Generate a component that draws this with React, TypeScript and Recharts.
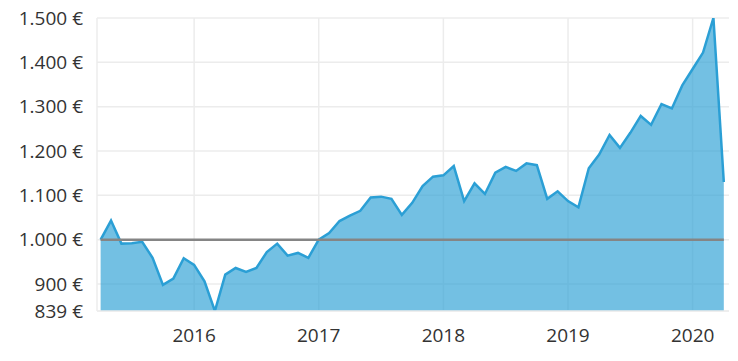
import { Area, CartesianGrid, ComposedChart, Line, XAxis, YAxis } from "recharts";

// monthly portfolio value, Apr 2015 .. Apr 2020 (one point per month)
const VALUES = [
  1000, 1043, 991, 992, 995, 959, 898, 912, 958, 943, 906, 839,
  921, 936, 927, 936, 972, 991, 964, 970, 959, 1000, 1015, 1042,
  1054, 1065, 1095, 1097, 1092, 1056, 1083, 1121, 1142, 1145, 1166, 1087,
  1127, 1103, 1151, 1164, 1155, 1172, 1168, 1092, 1109, 1087, 1073, 1161,
  1192, 1236, 1207, 1241, 1279, 1259, 1306, 1296, 1348, 1385, 1422, 1500,
  1130,
];
const START_VALUE = 1000;

// month index of Jan 1st for each year label
const YEAR_TICKS = [9, 21, 33, 45, 57];
const YEAR_LABELS = ["2016", "2017", "2018", "2019", "2020"];
const Y_TICKS = [839, 900, 1000, 1100, 1200, 1300, 1400, 1500];

const COLOR_AREA = "#2b9fd5";
const COLOR_BASE = "#858585";
const COLOR_GRID = "#ececec";
const COLOR_TEXT = "#333333";
const FONT = "'Open Sans', sans-serif";

const rows = VALUES.map((v, i) => ({ idx: i, value: v, base: START_VALUE }));

const euro = (v: number) => {
  const s = String(Math.round(v));
  return s.replace(/\B(?=(\d{3})+(?!\d))/g, ".") + " €";
};

const YTick = ({ x, y, payload }: any) => (
  <text
    x={x}
    y={y}
    dy="0.355em"
    textAnchor="end"
    fill={COLOR_TEXT}
    fontSize={19}
    fontFamily={FONT}
  >
    {euro(payload.value)}
  </text>
);

export default function App() {
  return (
    <div style={{ position: "absolute", left: 0, top: 0, width: 738, height: 361, background: "#fff" }}>
      <ComposedChart
        width={738}
        height={361}
        data={rows}
        margin={{ top: 18, right: 9, bottom: 20, left: 0 }}
      >
        <CartesianGrid stroke={COLOR_GRID} strokeWidth={1.5} horizontalValues={Y_TICKS} verticalValues={YEAR_TICKS} />
        <XAxis
          dataKey="idx"
          type="number"
          domain={[-0.35, 60.5]}
          ticks={YEAR_TICKS}
          tickFormatter={(v: number) => YEAR_LABELS[YEAR_TICKS.indexOf(v)]}
          allowDataOverflow
          height={30}
          axisLine={{ stroke: COLOR_GRID, strokeWidth: 1.5 }}
          tickLine={false}
          tickMargin={12}
          tick={{ fill: COLOR_TEXT, fontSize: 19, fontFamily: FONT }}
        />
        <YAxis
          type="number"
          domain={[839, 1500]}
          ticks={Y_TICKS}
          allowDataOverflow
          width={97}
          axisLine={{ stroke: COLOR_GRID, strokeWidth: 1.5 }}
          tickLine={false}
          tickMargin={8}
          tick={<YTick />}
        />
        <Area
          type="linear"
          dataKey="value"
          stroke={COLOR_AREA}
          strokeWidth={2.5}
          fill={COLOR_AREA}
          fillOpacity={0.66}
          baseValue={839}
          isAnimationActive={false}
          dot={false}
          activeDot={false}
        />
        <Line
          type="linear"
          dataKey="base"
          stroke={COLOR_BASE}
          strokeWidth={2.5}
          dot={false}
          activeDot={false}
          isAnimationActive={false}
        />
      </ComposedChart>
    </div>
  );
}
